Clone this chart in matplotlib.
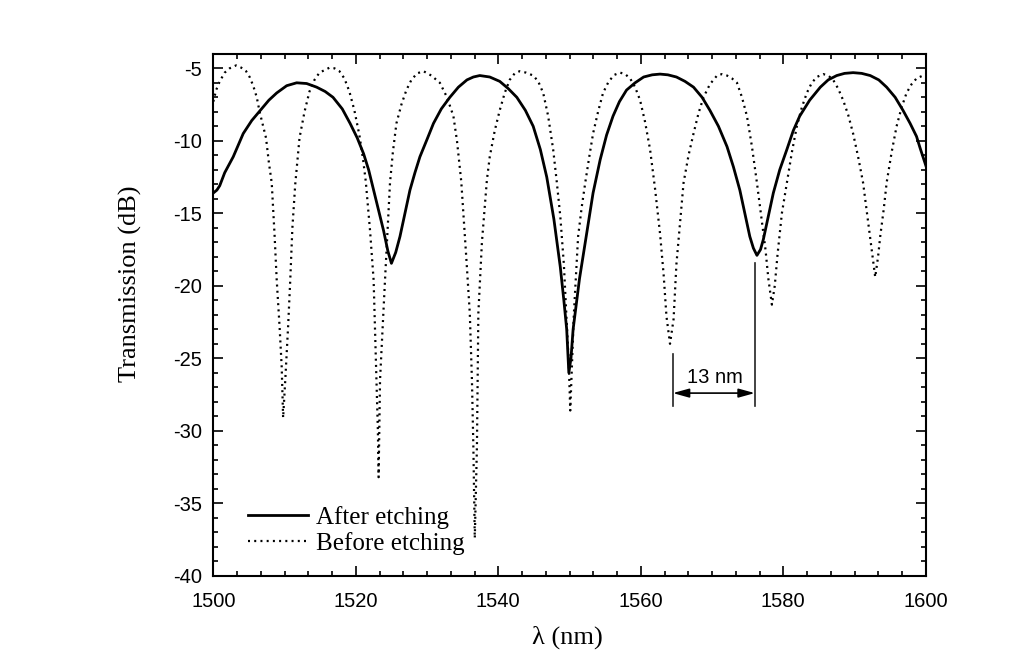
import matplotlib
matplotlib.use("Agg")
import matplotlib.pyplot as plt
from matplotlib.ticker import MultipleLocator, AutoMinorLocator

plt.rcParams["axes.unicode_minus"] = False

# ---------------- data ----------------
after_x = [1500.0, 1500.5, 1500.9, 1501.6, 1502.8, 1504.2, 1505.4, 1506.6, 1507.8, 1508.9,
           1510.3, 1511.7, 1513.1, 1514.5, 1515.7, 1516.8, 1518.1, 1519.2, 1520.2, 1521.1,
           1521.8, 1522.5, 1523.2, 1523.9, 1524.5, 1525.0, 1525.6, 1526.2, 1526.9, 1527.6,
           1528.3, 1529.0, 1530.0, 1530.9, 1532.0, 1533.2, 1534.4, 1535.6, 1536.5, 1537.4,
           1538.8, 1540.2, 1541.4, 1542.6, 1543.8, 1544.9, 1545.9, 1546.8, 1547.8, 1548.7,
           1549.2, 1549.6, 1549.9, 1550.2, 1550.5, 1551.4, 1552.4, 1553.3, 1554.3, 1555.2,
           1556.1, 1557.0, 1558.0, 1559.2, 1560.4, 1561.6, 1562.7, 1563.8, 1565.0, 1566.2,
           1567.4, 1568.6, 1569.7, 1570.9, 1572.1, 1573.0, 1573.9, 1574.6, 1575.3, 1575.8,
           1576.3, 1576.8, 1577.2, 1577.9, 1578.6, 1579.5, 1580.5, 1581.4, 1582.3, 1583.7,
           1585.2, 1586.3, 1587.5, 1588.6, 1589.8, 1591.0, 1592.2, 1593.4, 1594.5, 1595.7,
           1596.8, 1597.8, 1598.7, 1599.2, 1600.0]
after_y = [-13.6, -13.4, -13.1, -12.2, -11.1, -9.5, -8.6, -7.9, -7.2, -6.7,
           -6.2, -6.0, -6.05, -6.3, -6.6, -7.0, -7.8, -8.8, -9.8, -10.9,
           -12.0, -13.4, -14.8, -16.2, -17.6, -18.45, -17.7, -16.6, -15.0, -13.4,
           -12.2, -11.1, -9.9, -8.8, -7.8, -7.0, -6.3, -5.8, -5.6, -5.5,
           -5.6, -5.9, -6.4, -7.0, -7.9, -9.0, -10.6, -12.5, -15.4, -18.7,
           -21.0, -23.0, -26.0, -25.0, -23.0, -19.5, -16.4, -13.6, -11.3, -9.6,
           -8.3, -7.3, -6.5, -6.0, -5.6, -5.45, -5.4, -5.45, -5.6, -5.9,
           -6.3, -7.0, -7.9, -9.0, -10.4, -11.8, -13.4, -15.0, -16.6, -17.4,
           -17.9, -17.5, -16.8, -15.2, -13.6, -12.0, -10.6, -9.3, -8.3, -7.2,
           -6.3, -5.8, -5.5, -5.35, -5.3, -5.35, -5.5, -5.8, -6.3, -7.0,
           -7.9, -8.8, -9.7, -10.5, -11.7]

before_x = [1500.0, 1500.4, 1500.9, 1501.6, 1502.3, 1503.2, 1503.9, 1504.6, 1505.1, 1505.6,
            1506.1, 1506.5, 1507.0, 1507.4, 1507.8, 1508.2, 1508.6, 1508.9, 1509.3, 1509.6,
            1509.8, 1510.1, 1510.5, 1510.8, 1511.1, 1511.5, 1512.1, 1512.8, 1513.5, 1514.2,
            1514.9, 1516.3, 1517.0, 1517.7, 1518.4, 1519.1, 1519.8, 1520.5, 1521.0, 1521.4,
            1522.0, 1522.5, 1522.7, 1522.9, 1523.1, 1523.2, 1523.3, 1523.4, 1523.75, 1524.1,
            1524.45, 1524.8, 1525.2, 1525.7, 1526.4, 1527.1, 1527.8, 1528.6, 1529.5, 1530.6,
            1531.8, 1532.8, 1533.7, 1534.2, 1534.8, 1535.5, 1536.0, 1536.3, 1536.5, 1536.7,
            1537.0, 1537.1, 1537.2, 1537.7, 1538.4, 1538.8, 1539.5, 1540.2, 1540.9, 1541.6,
            1542.3, 1543.0, 1543.9, 1544.9, 1545.6, 1546.3, 1547.0, 1547.7, 1548.2, 1548.7,
            1549.2, 1549.6, 1549.9, 1550.1, 1550.3, 1550.6, 1551.2, 1551.7, 1552.2, 1552.8,
            1553.3, 1554.0, 1554.7, 1555.5, 1556.3, 1557.1, 1557.8, 1558.5, 1559.2, 1559.9,
            1560.6, 1561.3, 1562.0, 1562.7, 1563.2, 1563.6, 1564.1, 1564.6, 1565.0, 1565.3,
            1566.0, 1566.7, 1567.4, 1568.1, 1568.8, 1569.7, 1570.7, 1571.4, 1572.1, 1572.8,
            1573.5, 1574.2, 1574.9, 1575.6, 1576.3, 1577.0, 1577.5, 1577.9, 1578.4, 1578.8,
            1579.2, 1579.8, 1580.5, 1581.2, 1581.9, 1582.6, 1583.3, 1584.0, 1584.7, 1585.6,
            1586.3, 1587.0, 1587.7, 1588.4, 1589.1, 1589.8, 1590.5, 1591.2, 1591.8, 1592.4,
            1592.9, 1593.3, 1593.6, 1594.1, 1594.5, 1595.2, 1595.9, 1596.6, 1597.3, 1598.0,
            1598.7, 1599.6, 1600.0]
before_y = [-7.3, -6.5, -5.9, -5.3, -5.0, -4.8, -4.95, -5.2, -5.6, -6.2,
            -7.0, -8.0, -9.0, -9.8, -11.5, -12.9, -16.5, -19.6, -22.8, -25.6,
            -29.1, -26.5, -22.8, -19.6, -16.0, -13.0, -9.8, -8.0, -6.6, -5.8,
            -5.3, -4.96, -5.0, -5.2, -5.7, -6.6, -7.9, -9.6, -11.2, -12.8,
            -16.2, -19.6, -23.0, -26.5, -30.0, -33.2, -30.0, -26.5, -23.0, -19.6,
            -16.2, -12.9, -10.8, -8.8, -7.5, -6.5, -5.8, -5.35, -5.2, -5.5,
            -6.0, -7.0, -8.3, -10.0, -12.8, -18.0, -21.9, -26.5, -31.1, -37.4,
            -31.1, -26.5, -21.9, -17.0, -12.7, -11.1, -9.3, -7.9, -6.7, -5.8,
            -5.35, -5.2, -5.3, -5.5, -5.9, -6.7, -8.3, -10.6, -12.8, -15.2,
            -18.5, -22.5, -25.5, -28.6, -26.0, -22.0, -16.6, -14.6, -12.9, -11.0,
            -9.5, -8.0, -6.7, -5.9, -5.45, -5.3, -5.4, -5.7, -6.3, -7.2,
            -8.7, -10.6, -13.3, -16.4, -19.2, -22.1, -24.0, -22.3, -18.5, -16.8,
            -12.9, -11.0, -9.5, -8.1, -7.0, -6.1, -5.5, -5.4, -5.5, -5.7,
            -6.0, -7.0, -8.3, -10.4, -12.9, -15.6, -17.5, -19.5, -21.3, -20.0,
            -17.8, -15.0, -12.9, -10.8, -9.0, -7.7, -6.7, -6.0, -5.6, -5.4,
            -5.5, -5.8, -6.4, -7.2, -8.2, -9.5, -11.1, -12.9, -15.2, -17.5,
            -19.4, -18.0, -16.6, -14.7, -12.9, -10.8, -9.0, -7.7, -6.7, -6.1,
            -5.7, -5.5, -5.4]

series_labels = ["After etching", "Before etching"]
x_ticks = [1500, 1520, 1540, 1560, 1580, 1600]
y_ticks = [-40, -35, -30, -25, -20, -15, -10, -5]

# annotation (spacing between dips)
spacing_label = "13 nm"
mark_left_x = 1564.5
mark_right_x = 1576.0

# ---------------- figure ----------------
serif = ["Liberation Serif", "DejaVu Serif"]
sans = ["Liberation Sans", "DejaVu Sans"]

fig = plt.figure(figsize=(10.24, 6.62), dpi=100)
ax = fig.add_axes([213.3 / 1024, 1 - 575.8 / 662, 712.5 / 1024, 522.0 / 662])

ax.plot(after_x, after_y, color="black", lw=2.0, solid_joinstyle="round",
        label=series_labels[0])
ax.plot(before_x, before_y, color="black", lw=1.6, linestyle=(0, (0.9, 1.9)),
        dash_capstyle="butt", label=series_labels[1])

ax.set_xlim(1500, 1600)
ax.set_ylim(-40, -4)
ax.set_xticks(x_ticks)
ax.set_yticks(y_ticks)
ax.xaxis.set_minor_locator(AutoMinorLocator(6))
ax.yaxis.set_minor_locator(MultipleLocator(1))

ax.tick_params(which="both", direction="in", top=True, right=True, width=1.2, color="black")
ax.tick_params(which="major", length=7.5)
ax.tick_params(which="minor", length=3.8)
ax.tick_params(axis="x", which="major", pad=12)
ax.tick_params(axis="y", which="major", pad=8)
for lab in ax.get_xticklabels() + ax.get_yticklabels():
    lab.set_fontfamily(sans)
    lab.set_fontsize(14.5)
for sp in ax.spines.values():
    sp.set_linewidth(1.5)

ax.set_xlabel("λ (nm)", fontfamily=serif, fontsize=19, va="center")
ax.xaxis.set_label_coords((567 - 213.3) / 712.5, (575.8 - 637) / 522.0)
ax.set_ylabel("Transmission (dB)", fontfamily=serif, fontsize=19, va="center")
ax.yaxis.set_label_coords((130 - 213.3) / 712.5, (575.8 - 284) / 522.0)

# spacing annotation
ax.plot([mark_left_x, mark_left_x], [-24.7, -28.3], color="#222222", lw=1.2)
ax.plot([mark_right_x, mark_right_x], [-18.4, -28.3], color="#222222", lw=1.2)
ax.annotate("", xy=(mark_left_x, -27.4), xytext=(mark_right_x, -27.4),
            arrowprops=dict(arrowstyle="<|-|>,head_length=0.65,head_width=0.18",
                            color="black", lw=1.2, shrinkA=0, shrinkB=0,
                            mutation_scale=15))
ax.text((mark_left_x + mark_right_x) / 2 + 0.1, -26.3, spacing_label,
        ha="center", va="center", fontfamily=sans, fontsize=14.5)

leg = ax.legend(loc="lower left", bbox_to_anchor=((248 - 213.3) / 712.5, (575.8 - 555) / 522.0),
                frameon=False, borderaxespad=0, borderpad=0, handlelength=2.4,
                handletextpad=0.3, labelspacing=0.12,
                prop={"family": serif, "size": 18})

fig.savefig("out.png", dpi=100)
